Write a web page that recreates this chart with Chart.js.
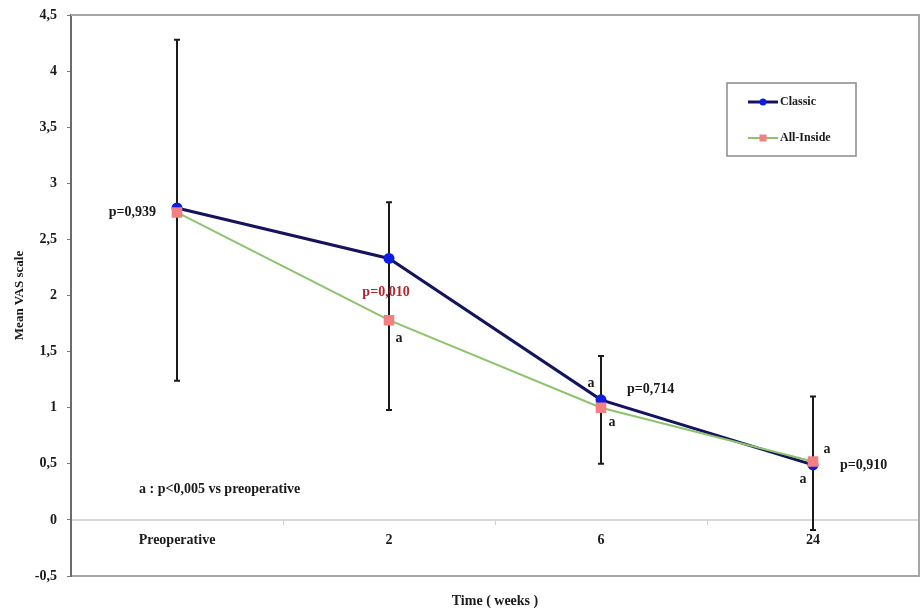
<!DOCTYPE html>
<html>
<head>
<meta charset="utf-8">
<script src="https://cdn.jsdelivr.net/npm/chart.js@4.4.1/dist/chart.umd.min.js"></script>
<style>
  html, body { margin: 0; padding: 0; background: #ffffff; }
  #wrap { width: 922px; height: 612px; position: relative; }
</style>
</head>
<body>
<div id="wrap"><canvas id="c" width="922" height="612"></canvas></div>
<script>
// ---- data ----
const categories = ['Preoperative', '2', '6', '24'];
const classicMeans = [2.78, 2.33, 1.07, 0.49];
const allInsideMeans = [2.74, 1.78, 1.00, 0.52];
const errorHigh = [4.28, 2.83, 1.46, 1.10];
const errorLow = [1.24, 0.98, 0.50, -0.09];
const seriesNames = ['Classic', 'All-Inside'];
const yAxisTitle = 'Mean VAS scale';
const xAxisTitle = 'Time ( weeks )';

// text annotations anchored at (category index, value)
const annotations = [
  { text: 'p=0,939', cat: 0, value: 2.745, dx: -21, align: 'right', color: '#1a1a1a' },
  { text: 'p=0,010', cat: 1, value: 2.03, dx: -3, align: 'center', color: '#b3262c' },
  { text: 'a', cat: 1, value: 1.62, dx: 10, align: 'center', color: '#1a1a1a' },
  { text: 'a', cat: 2, value: 1.22, dx: -10, align: 'center', color: '#1a1a1a' },
  { text: 'a', cat: 2, value: 0.865, dx: 11, align: 'center', color: '#1a1a1a' },
  { text: 'p=0,714', cat: 2, value: 1.16, dx: 26, align: 'left', color: '#1a1a1a' },
  { text: 'a', cat: 3, value: 0.63, dx: 14, align: 'center', color: '#1a1a1a' },
  { text: 'a', cat: 3, value: 0.365, dx: -10, align: 'center', color: '#1a1a1a' },
  { text: 'p=0,910', cat: 3, value: 0.49, dx: 27, align: 'left', color: '#1a1a1a' },
  { text: 'a : p<0,005 vs preoperative', cat: 0, value: 0.27, dx: -38, align: 'left', color: '#1a1a1a' }
];

const FONT = "'Liberation Serif', 'DejaVu Serif', serif";

const errorBarPlugin = {
  id: 'errorBars',
  beforeDatasetsDraw(chart) {
    const { ctx, scales: { x, y } } = chart;
    ctx.save();
    ctx.strokeStyle = '#1a1a1a';
    ctx.lineWidth = 2;
    for (let i = 0; i < categories.length; i++) {
      const px = x.getPixelForValue(i);
      const top = y.getPixelForValue(errorHigh[i]);
      const bot = y.getPixelForValue(errorLow[i]);
      ctx.beginPath();
      ctx.moveTo(px, top); ctx.lineTo(px, bot);
      ctx.moveTo(px - 3, top); ctx.lineTo(px + 3, top);
      ctx.moveTo(px - 3, bot); ctx.lineTo(px + 3, bot);
      ctx.stroke();
    }
    ctx.restore();
  }
};

const framePlugin = {
  id: 'frame',
  afterDraw(chart) {
    const { ctx, chartArea: a } = chart;
    ctx.save();
    ctx.strokeStyle = '#a6a6a6';
    ctx.lineWidth = 2;
    ctx.beginPath();
    ctx.moveTo(a.left, a.top); ctx.lineTo(a.right, a.top); ctx.lineTo(a.right, a.bottom);
    ctx.stroke();
    ctx.restore();
  }
};

const annotationPlugin = {
  id: 'annots',
  afterDatasetsDraw(chart) {
    const { ctx, scales: { x, y } } = chart;
    ctx.save();
    ctx.font = 'bold 14px ' + FONT;
    ctx.textBaseline = 'middle';
    annotations.forEach(a => {
      ctx.fillStyle = a.color;
      ctx.textAlign = a.align;
      ctx.fillText(a.text, x.getPixelForValue(a.cat) + a.dx, y.getPixelForValue(a.value));
    });
    ctx.restore();
  }
};

const legendPlugin = {
  id: 'boxLegend',
  afterDraw(chart) {
    const { ctx, chartArea: a } = chart;
    const left = a.right - 192, top = a.top + 68, w = 129, h = 73;
    ctx.save();
    ctx.strokeStyle = '#8a8a8a';
    ctx.lineWidth = 1.5;
    ctx.strokeRect(left, top, w, h);
    ctx.font = 'bold 12px ' + FONT;
    ctx.textBaseline = 'middle';
    ctx.textAlign = 'left';
    chart.data.datasets.forEach((ds, i) => {
      const yy = top + 19 + i * 36;
      ctx.strokeStyle = ds.borderColor;
      ctx.lineWidth = ds.borderWidth;
      ctx.beginPath(); ctx.moveTo(left + 21, yy); ctx.lineTo(left + 51, yy); ctx.stroke();
      ctx.fillStyle = ds.pointBackgroundColor;
      if (ds.pointStyle === 'rect') {
        ctx.fillRect(left + 36 - 3.5, yy - 3.5, 7, 7);
      } else {
        ctx.beginPath(); ctx.arc(left + 36, yy, 3.5, 0, Math.PI * 2); ctx.fill();
      }
      ctx.fillStyle = '#1a1a1a';
      ctx.fillText(ds.label, left + 53, yy);
    });
    ctx.restore();
  }
};

new Chart(document.getElementById('c'), {
  type: 'line',
  data: {
    labels: categories,
    datasets: [
      {
        label: seriesNames[0],
        data: classicMeans,
        borderColor: '#14145e',
        borderWidth: 3,
        pointStyle: 'circle',
        pointRadius: 5.5,
        pointBackgroundColor: '#0d1ee0',
        pointBorderColor: '#0d1ee0',
        pointBorderWidth: 0,
        tension: 0,
        order: 1
      },
      {
        label: seriesNames[1],
        data: allInsideMeans,
        borderColor: '#8cc46c',
        borderWidth: 2,
        pointStyle: 'rect',
        pointRadius: 7.5,
        pointBackgroundColor: '#f47f80',
        pointBorderColor: '#f47f80',
        pointBorderWidth: 0,
        tension: 0,
        order: 0
      }
    ]
  },
  options: {
    responsive: false,
    animation: false,
    layout: { autoPadding: false, padding: { left: 0, right: 3, top: 15, bottom: 0 } },
    plugins: { legend: { display: false }, tooltip: { enabled: false } },
    scales: {
      x: {
        type: 'category',
        position: { y: 0 },
        offset: true,
        grid: { display: true, drawOnChartArea: false, drawTicks: true, tickLength: 4, color: '#cfcfcf', offset: true },
        border: { display: true, color: '#d9d9d9', width: 2 },
        ticks: { color: '#1a1a1a', padding: 8, font: { family: FONT, size: 14, weight: 'bold' } },
        afterFit(scale) { scale.paddingLeft = 0; scale.paddingRight = 0; scale.paddingTop = 0; scale.paddingBottom = 0; }
      },
      x2: {
        type: 'category',
        position: 'bottom',
        grid: { display: false },
        border: { display: true, color: '#a6a6a6', width: 2 },
        ticks: { display: false },
        title: { display: true, text: xAxisTitle, color: '#1a1a1a', padding: { top: 0, bottom: 2 }, font: { family: FONT, size: 14, weight: 'bold', lineHeight: 1.2 } },
        afterFit(scale) { scale.height = 36; scale.paddingLeft = 0; scale.paddingRight = 0; }
      },
      y: {
        min: -0.5,
        max: 4.5,
        grid: { display: true, drawOnChartArea: false, drawTicks: true, tickLength: 4, color: '#777777' },
        border: { display: true, color: '#6b6b6b', width: 2 },
        ticks: {
          stepSize: 0.5,
          color: '#1a1a1a',
          padding: 10,
          font: { family: FONT, size: 14, weight: 'bold' },
          callback: v => String(Math.round(v * 10) / 10).replace('.', ',')
        },
        title: { display: true, text: yAxisTitle, color: '#1a1a1a', padding: { top: 12, bottom: 0 }, font: { family: FONT, size: 13, weight: 'bold', lineHeight: 1.2 } },
        afterFit(scale) { scale.width = 71; scale.paddingTop = 0; scale.paddingBottom = 0; }
      }
    }
  },
  plugins: [errorBarPlugin, framePlugin, annotationPlugin, legendPlugin]
});
</script>
</body>
</html>
